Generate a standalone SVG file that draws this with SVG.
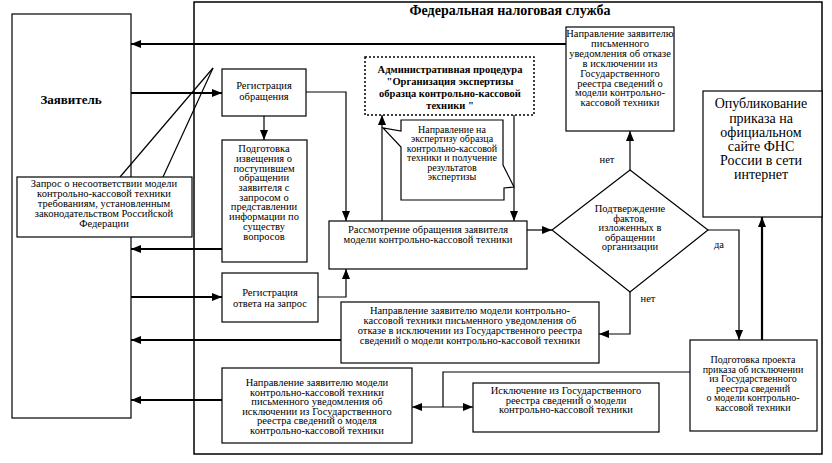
<svg xmlns="http://www.w3.org/2000/svg" width="832" height="463" viewBox="0 0 832 463">
<style>
text{font-family:"Liberation Serif","Times New Roman",serif;fill:#000;text-anchor:middle}
.t{font-size:10.5px}
.s{font-size:10px}
.b{font-weight:bold}
.box{fill:#fff;stroke:#000;stroke-width:1.2}
.ln{fill:none;stroke:#000;stroke-width:1.2}
.thk{fill:none;stroke:#000;stroke-width:2.2}
</style>
<defs>
<marker id="ah" viewBox="0 0 10 8" refX="10" refY="4" markerWidth="10" markerHeight="8" markerUnits="userSpaceOnUse" orient="auto-start-reverse">
<path d="M0,0 L10,4 L0,8 Z" fill="#000"/>
</marker>
</defs>
<rect x="0" y="0" width="832" height="463" fill="#fff"/>

<g id="fns">
<rect x="194" y="2" width="628" height="452" fill="none" stroke="#000" stroke-width="1.5"/>
<text x="510" y="15" class="b" style="font-size:14px">Федеральная налоговая служба</text>
</g>

<g id="applicant">
<rect class="box" x="12" y="14" width="119" height="404"/>
<text x="71" y="104" class="b" style="font-size:13px">Заявитель</text>
</g>

<g id="connectors">
<line class="thk" x1="131" y1="93" x2="222" y2="93" marker-end="url(#ah)"/>
<line class="thk" x1="566" y1="44" x2="131" y2="44" marker-end="url(#ah)"/>
<line class="ln" x1="264" y1="116" x2="264" y2="140" marker-end="url(#ah)"/>
<line class="thk" x1="222" y1="249" x2="131" y2="249" marker-end="url(#ah)"/>
<line class="thk" x1="131" y1="297" x2="222" y2="297" marker-end="url(#ah)"/>
<polyline class="ln" points="318,297 346,297 346,269" marker-end="url(#ah)"/>
<polyline class="ln" points="306,92 346,92 346,221" marker-end="url(#ah)"/>
<line class="ln" x1="382" y1="221" x2="382" y2="115" marker-end="url(#ah)"/>
<line class="ln" x1="514" y1="115" x2="514" y2="221" marker-end="url(#ah)"/>
<line class="ln" x1="527" y1="230" x2="552" y2="230" marker-end="url(#ah)"/>
<line class="ln" x1="630" y1="170" x2="630" y2="131" marker-end="url(#ah)"/>
<polyline class="ln" points="708,230 739,230 739,340" marker-end="url(#ah)"/>
<polyline class="ln" points="630,292 630,334 599,334" marker-end="url(#ah)"/>
<line class="thk" x1="341" y1="340" x2="131" y2="340" marker-end="url(#ah)"/>
<line class="thk" x1="222" y1="400" x2="131" y2="400" marker-end="url(#ah)"/>
<polyline class="ln" points="690,372 443,372 443,407"/>
<line class="ln" x1="412" y1="407" x2="473" y2="407" marker-start="url(#ah)" marker-end="url(#ah)"/>
<line class="thk" x1="762" y1="340" x2="762" y2="217" marker-end="url(#ah)"/>
<text x="607" y="163" class="t">нет</text>
<text x="719" y="248" class="t">да</text>
<text x="648" y="302" class="t">нет</text>
</g>

<g id="request-note">
<line class="ln" x1="213" y1="68" x2="120" y2="177"/>
<line class="ln" x1="213" y1="68" x2="163" y2="177"/>
<rect class="box" x="17" y="177" width="175" height="60"/>
<text class="t" x="104" y="187">Запрос о несоответствии модели</text>
<text class="t" x="104" y="197">контрольно-кассовой техники</text>
<text class="t" x="104" y="207">требованиям, установленным</text>
<text class="t" x="104" y="217">законодательством Российской</text>
<text class="t" x="104" y="227">Федерации</text>
</g>

<g id="registration">
<rect class="box" x="222" y="69" width="84" height="47"/>
<text class="t" x="264" y="89">Регистрация</text>
<text class="t" x="264" y="100">обращения</text>
</g>

<g id="notice">
<rect class="box" x="222" y="140" width="85" height="122"/>
<text class="t" x="264" y="152">Подготовка</text>
<text class="t" x="264" y="162">извещения о</text>
<text class="t" x="264" y="171.5">поступившем</text>
<text class="t" x="264" y="181">обращении</text>
<text class="t" x="264" y="191">заявителя с</text>
<text class="t" x="264" y="200.5">запросом о</text>
<text class="t" x="264" y="210">представлении</text>
<text class="t" x="264" y="220">информации по</text>
<text class="t" x="264" y="229.5">существу</text>
<text class="t" x="264" y="239.5">вопросов</text>
</g>

<g id="reg-answer">
<rect class="box" x="222" y="273" width="96" height="49"/>
<text class="t" x="270" y="296">Регистрация</text>
<text class="t" x="270" y="307">ответа на запрос</text>
</g>

<g id="review">
<rect class="box" x="329" y="221" width="198" height="48"/>
<text class="t" x="428" y="233">Рассмотрение обращения заявителя</text>
<text class="t" x="428" y="243">модели контрольно-кассовой техники</text>
</g>

<g id="admin">
<rect x="365" y="57" width="169" height="58" fill="#fff" stroke="#000" stroke-width="1.5" stroke-dasharray="2,2"/>
<text class="b" style="font-size:10.5px" x="450" y="73">Административная процедура</text>
<text class="b" style="font-size:10.5px" x="450" y="85">"Организация экспертизы</text>
<text class="b" style="font-size:10.5px" x="450" y="97">образца контрольно-кассовой</text>
<text class="b" style="font-size:10.5px" x="450" y="109">техники "</text>
</g>

<g id="expertise-note">
<polygon class="box" points="401,120 503,120 503,165 514,187 504,188 504,200 401,200 401,147 383,128 401,131"/>
<text class="s" x="452" y="132.5">Направление на</text>
<text class="s" x="452" y="142">экспертизу образца</text>
<text class="s" x="452" y="151.5">контрольно-кассовой</text>
<text class="s" x="452" y="161">техники и получение</text>
<text class="s" x="452" y="170.5">результатов</text>
<text class="s" x="452" y="180">экспертизы</text>
</g>

<g id="refusal-top">
<rect class="box" x="566" y="27" width="108" height="104"/>
<text class="t" x="620" y="37">Направление заявителю</text>
<text class="t" x="620" y="47">письменного</text>
<text class="t" x="620" y="56.5">уведомления об отказе</text>
<text class="t" x="620" y="66.5">в исключении из</text>
<text class="t" x="620" y="76.5">Государственного</text>
<text class="t" x="620" y="86.5">реестра сведений о</text>
<text class="t" x="620" y="96">модели контрольно-</text>
<text class="t" x="620" y="106">кассовой техники</text>
</g>

<g id="decision">
<polygon class="box" points="630,170 708,230 630,292 552,230"/>
<text class="t" x="630" y="212">Подтверждение</text>
<text class="t" x="630" y="221.5">фактов,</text>
<text class="t" x="630" y="231">изложенных в</text>
<text class="t" x="630" y="240.5">обращении</text>
<text class="t" x="630" y="250">организации</text>
</g>

<g id="publish">
<rect class="box" x="703" y="91" width="119" height="126"/>
<text x="761" y="108" style="font-size:14px">Опубликование</text>
<text x="761" y="122.5" style="font-size:14px">приказа на</text>
<text x="761" y="136.5" style="font-size:14px">официальном</text>
<text x="761" y="150.5" style="font-size:14px">сайте ФНС</text>
<text x="761" y="164.5" style="font-size:14px">России в сети</text>
<text x="761" y="178.5" style="font-size:14px">интернет</text>
</g>

<g id="refusal-bottom">
<rect class="box" x="341" y="302" width="258" height="61"/>
<text class="t" x="470" y="314">Направление заявителю модели контрольно-</text>
<text class="t" x="470" y="324">кассовой техники письменного уведомления об</text>
<text class="t" x="470" y="334">отказе в исключении из Государственного реестра</text>
<text class="t" x="470" y="344">сведений о модели контрольно-кассовой техники</text>
</g>

<g id="draft-order">
<rect class="box" x="690" y="340" width="127" height="91"/>
<text class="s" x="753" y="363">Подготовка проекта</text>
<text class="s" x="753" y="372.5">приказа об исключении</text>
<text class="s" x="753" y="382">из Государственного</text>
<text class="s" x="753" y="391.5">реестра сведений</text>
<text class="s" x="753" y="401">о модели контрольно-</text>
<text class="s" x="753" y="410.5">кассовой техники</text>
</g>

<g id="exclusion">
<rect class="box" x="473" y="383" width="186" height="49"/>
<text class="t" x="566" y="394">Исключение из Государственного</text>
<text class="t" x="566" y="403.5">реестра сведений о модели</text>
<text class="t" x="566" y="413">контрольно-кассовой техники</text>
</g>

<g id="notify-exclusion">
<rect class="box" x="222" y="368" width="190" height="75"/>
<text class="t" x="317" y="386">Направление заявителю модели</text>
<text class="t" x="317" y="395.5">контрольно-кассовой техники</text>
<text class="t" x="317" y="405">письменного уведомления об</text>
<text class="t" x="317" y="414.5">исключении из Государственного</text>
<text class="t" x="317" y="424">реестра сведений о моделя</text>
<text class="t" x="317" y="433.5">контрольно-кассовой техники</text>
</g>
</svg>
